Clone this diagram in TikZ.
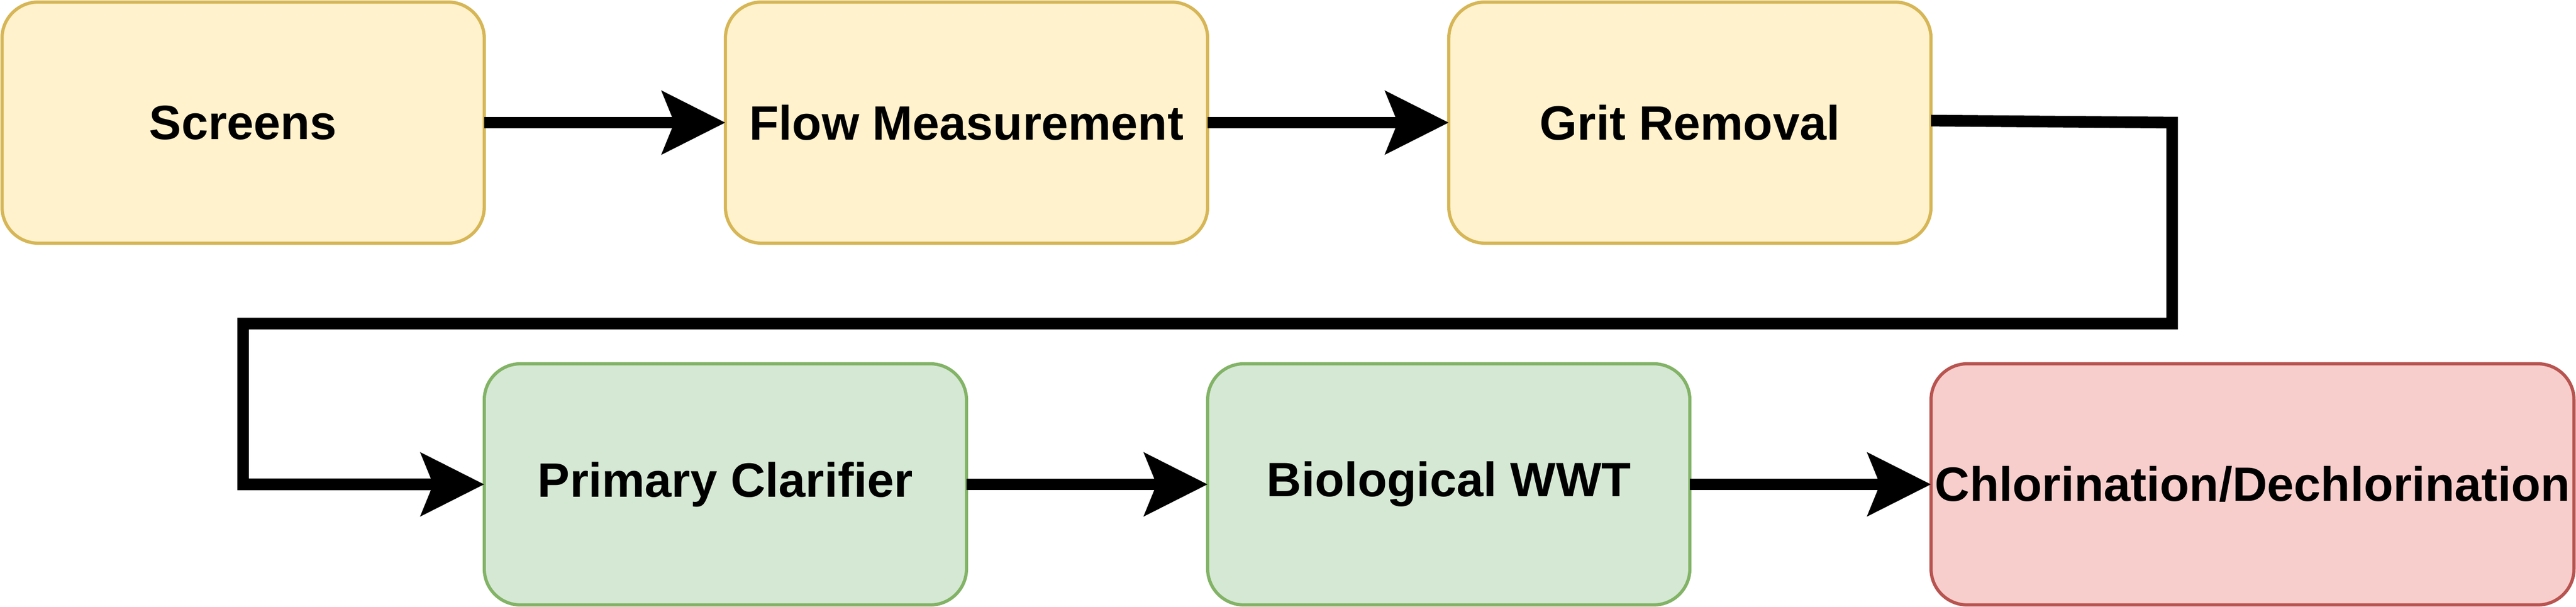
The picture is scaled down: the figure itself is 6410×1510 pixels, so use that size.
\documentclass[tikz,border=0pt]{standalone}
\usepackage{fontspec}
\setmainfont{Liberation Sans}
\usetikzlibrary{arrows.meta}
\definecolor{yfill}{HTML}{FFF2CC}
\definecolor{ydraw}{HTML}{D6B656}
\definecolor{gfill}{HTML}{D5E8D4}
\definecolor{gdraw}{HTML}{82B366}
\definecolor{rfill}{HTML}{F8CECC}
\definecolor{rdraw}{HTML}{B85450}
\tikzset{
  procbox/.style={rectangle, rounded corners=9pt, line width=0.8pt, minimum width=120pt, minimum height=60pt, inner sep=0pt, outer sep=0pt, font=\bfseries\fontsize{12pt}{14pt}\selectfont, align=center},
  yellowbox/.style={procbox, fill=yfill, draw=ydraw},
  greenbox/.style={procbox, fill=gfill, draw=gdraw},
  redbox/.style={procbox, fill=rfill, draw=rdraw},
  flow/.style={line width=2.9pt, line join=miter, -{Stealth[length=15.7pt, width=15.5pt, inset=3pt]}}
}
\begin{document}
\begin{tikzpicture}[x=0.1pt, y=-0.1pt]
\useasboundingbox (0,0) rectangle (6410,1510);
\node[yellowbox] (screens) at (605,305) {Screens};
\node[yellowbox] (flowm) at (2405,305) {Flow Measurement};
\node[yellowbox] (grit) at (4205,305) {Grit Removal};
\node[greenbox] (prim) at (1805,1205) {Primary Clarifier};
\node[greenbox] (bio) at (3605,1205) {Biological WWT};
\node[redbox, minimum width=160pt] (chlor) at (5605,1205) {Chlorination/Dechlorination};
\coordinate (c1) at (5405,305);
\coordinate (c2) at (5405,805);
\coordinate (c3) at (605,805);
\coordinate (c4) at (605,1205);
\draw[flow] (screens.east) -- (flowm.west);
\draw[flow] (flowm.east) -- (grit.west);
\draw[flow] ([yshift=0.5pt]grit.east) -- (c1) -- (c2) -- (c3) -- (c4) -- (prim.west);
\draw[flow] (prim.east) -- (bio.west);
\draw[flow] (bio.east) -- (chlor.west);
\end{tikzpicture}
\end{document}
